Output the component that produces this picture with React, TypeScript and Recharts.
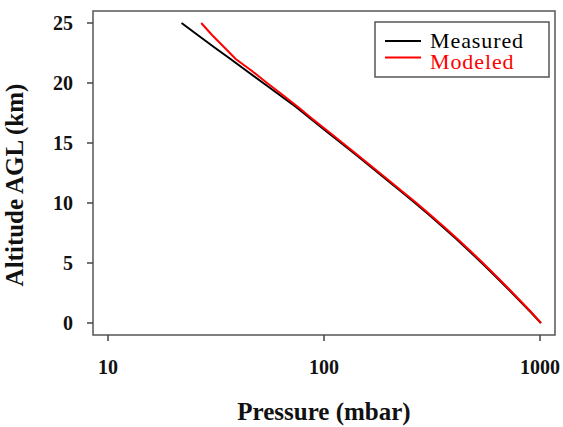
import React from 'react';
import { LineChart, Line, XAxis, YAxis, ReferenceArea } from 'recharts';

// altitude above ground (km)
const altitudes = [0, 1, 2, 3, 4, 5, 6, 7, 8, 9, 10, 11, 12, 13, 14, 15, 16, 17, 18, 19, 20, 21, 22, 23, 24, 25];
// pressure (mbar) at each altitude
const measuredPressure = [1010, 895, 790, 697, 613, 538, 470, 410, 355, 307, 264, 226, 193, 165, 141, 120, 102, 87, 74.2, 62.3, 52.3, 43.9, 36.9, 30.9, 26.0, 21.9];
const modeledPressure = [1010, 900, 796, 703, 619, 544, 476, 415, 360, 311, 268, 229, 196, 167.5, 143, 122, 104, 88.5, 75.8, 64.4, 54.5, 46.4, 39.0, 34.4, 30.3, 27.0];

const xTicks = [10, 100, 1000];
const yTicks = [0, 5, 10, 15, 20, 25];

const measured = altitudes.map((alt, i) => ({ alt, p: measuredPressure[i] }));
const modeled = altitudes.map((alt, i) => ({ alt, p: modeledPressure[i] }));

const FONT = '"Liberation Serif", serif';
const X_DOMAIN: [number, number] = [8.52, 1173];
const Y_DOMAIN: [number, number] = [-1, 26];

function LegendBox() {
    return (
        <svg width={176} height={58} style={{ position: 'absolute', left: 374, top: 21 }}>
            <rect x={1} y={1} width={174} height={55} fill="#fff" stroke="#555" strokeWidth={1.5} />
            <line x1={11} x2={47} y1={20} y2={20} stroke="#000" strokeWidth={2} />
            <line x1={11} x2={47} y1={36.5} y2={36.5} stroke="#ff0000" strokeWidth={2} />
            <text x={56} y={27} fontFamily={FONT} fontSize={22} letterSpacing={0.9} fill="#000">Measured</text>
            <text x={56} y={48} fontFamily={FONT} fontSize={22} letterSpacing={0.9} fill="#ff0000">Modeled</text>
        </svg>
    );
}

export default function App() {
    return (
        <div style={{ position: 'absolute', left: 0, top: 0, width: 563, height: 427, background: '#fff' }}>
            <LineChart width={563} height={427} margin={{ top: 11, right: 8, left: 0, bottom: 0 }}>
                <XAxis
                    type="number" dataKey="p" scale="log" domain={X_DOMAIN} ticks={xTicks}
                    allowDataOverflow height={92} tickSize={6} tickMargin={19}
                    axisLine={false} tickLine={{ stroke: '#444', strokeWidth: 1.5 }}
                    tick={{ fill: '#111', fontFamily: FONT, fontSize: 20, fontWeight: 700 }}
                    label={{ value: 'Pressure (mbar)', position: 'insideBottom', offset: 7, fill: '#111', fontFamily: FONT, fontSize: 25, fontWeight: 700 }}
                />
                <YAxis
                    type="number" dataKey="alt" domain={Y_DOMAIN} ticks={yTicks}
                    allowDataOverflow width={93} tickSize={6} tickMargin={14}
                    axisLine={false} tickLine={{ stroke: '#444', strokeWidth: 1.5 }}
                    tick={{ fill: '#111', fontFamily: FONT, fontSize: 20, fontWeight: 700 }}
                    label={{ value: 'Altitude AGL (km)', angle: -90, position: 'insideLeft', offset: 14, dy: 12, fill: '#111', fontFamily: FONT, fontSize: 25, fontWeight: 700, style: { textAnchor: 'middle' } }}
                />
                <ReferenceArea x1={X_DOMAIN[0]} x2={X_DOMAIN[1]} y1={Y_DOMAIN[0]} y2={Y_DOMAIN[1]}
                    fill="none" stroke="#555" strokeWidth={1.5} ifOverflow="visible" />
                <Line data={measured} dataKey="alt" type="linear" stroke="#000" strokeWidth={2}
                    dot={false} isAnimationActive={false} name="Measured" />
                <Line data={modeled} dataKey="alt" type="linear" stroke="#ff0000" strokeWidth={2}
                    dot={false} isAnimationActive={false} name="Modeled" />
            </LineChart>
            <LegendBox />
        </div>
    );
}
